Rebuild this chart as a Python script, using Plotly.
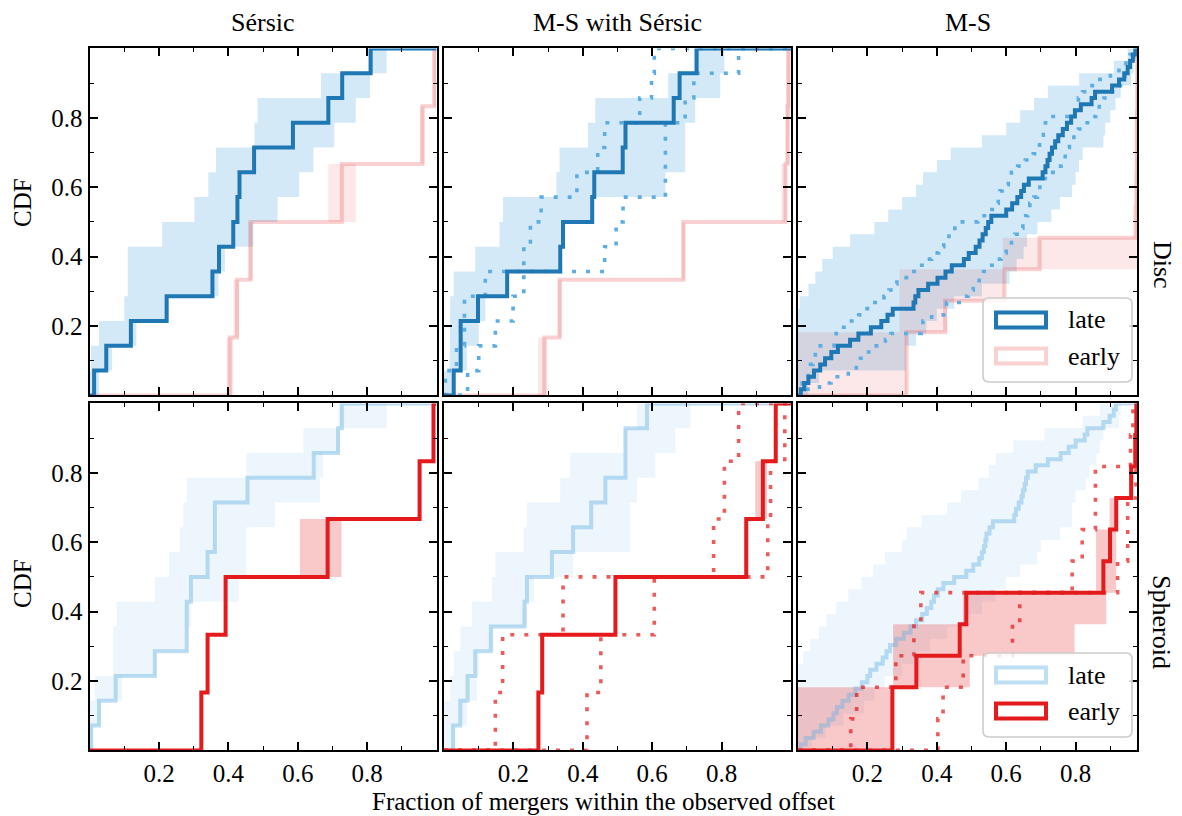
import plotly.graph_objects as go

# ------------------------------------------------------------------ data
col_titles = ["Sérsic", "M-S with Sérsic", "M-S"]
row_titles = ["Disc", "Spheroid"]
tick_vals = [0.2, 0.4, 0.6, 0.8]
tick_text = ["0.2", "0.4", "0.6", "0.8"]
minor_vals = [0.1, 0.3, 0.5, 0.7, 0.9]
col_xmax = [1.0, 1.0, 0.978]

# Panel 1 : Sérsic / Disc
p1_late_x = [0.013, 0.048, 0.119, 0.222, 0.354, 0.373, 0.414, 0.426, 0.432, 0.474, 0.586, 0.688, 0.728, 0.810]
p1_late_lo = [0.000, 0.004, 0.027, 0.100, 0.110, 0.110, 0.209, 0.302, 0.342, 0.364, 0.475, 0.484, 0.667, 0.803]
p1_late_hi = [0.027, 0.065, 0.135, 0.227, 0.371, 0.390, 0.472, 0.542, 0.604, 0.645, 0.705, 0.767, 0.808, 0.856]
p1_early_x = [0.404, 0.425, 0.464, 0.727, 0.959, 0.993]
p1_early_lo = [0.395, 0.414, 0.457, 0.688, 0.952, 0.990]
p1_early_hi = [0.414, 0.430, 0.470, 0.767, 0.966, 1.000]

# Panel 2 : M-S with Sérsic / Disc
p2_late_x = [0.028, 0.048, 0.048, 0.098, 0.182, 0.335, 0.343, 0.427, 0.433, 0.515, 0.523, 0.662, 0.679, 0.728]
p2_late_lo = [0.000, 0.016, 0.016, 0.018, 0.028, 0.090, 0.160, 0.170, 0.324, 0.333, 0.415, 0.436, 0.646, 0.720]
p2_late_hi = [0.033, 0.066, 0.100, 0.119, 0.186, 0.340, 0.345, 0.433, 0.638, 0.695, 0.695, 0.724, 0.796, 0.808]
p2_late_dot_a = [0.004, 0.036, 0.059, 0.059, 0.119, 0.230, 0.249, 0.280, 0.383, 0.443, 0.463, 0.564, 0.598, 0.606]
p2_late_dot_b = [0.068, 0.100, 0.148, 0.199, 0.230, 0.463, 0.496, 0.516, 0.638, 0.638, 0.638, 0.695, 0.720, 0.849]
p2_early_x = [0.289, 0.333, 0.690, 0.984, 0.990, 0.993]
p2_early_lo = [0.271, 0.328, 0.684, 0.972, 0.984, 0.986]
p2_early_hi = [0.297, 0.340, 0.695, 0.988, 0.996, 0.998]

# Panel 3 : M-S / Disc
p3_late_x = [0.008, 0.018, 0.030, 0.046, 0.064, 0.078, 0.096, 0.115, 0.150, 0.174,
             0.210, 0.240, 0.258, 0.273, 0.333, 0.338, 0.347, 0.375, 0.402, 0.425,
             0.443, 0.478, 0.492, 0.512, 0.523, 0.532, 0.541, 0.548, 0.557, 0.600,
             0.617, 0.632, 0.643, 0.651, 0.665, 0.705, 0.713, 0.719, 0.725, 0.732,
             0.741, 0.750, 0.763, 0.775, 0.787, 0.798, 0.815, 0.846, 0.856, 0.905,
             0.925, 0.940, 0.950, 0.957, 0.965, 0.972]
p3_late_dot_a = [0.005, 0.012, 0.022, 0.030, 0.036, 0.043, 0.050, 0.056, 0.104, 0.110,
                 0.125, 0.145, 0.175, 0.192, 0.215, 0.248, 0.262, 0.275, 0.285, 0.327,
                 0.345, 0.370, 0.385, 0.405, 0.420, 0.435, 0.452, 0.465, 0.518, 0.550,
                 0.570, 0.577, 0.582, 0.588, 0.606, 0.615, 0.633, 0.655, 0.678, 0.690,
                 0.696, 0.702, 0.707, 0.713, 0.722, 0.786, 0.800, 0.808, 0.820, 0.835,
                 0.870, 0.900, 0.925, 0.945, 0.957, 0.966]
p3_late_dot_b = [0.028, 0.062, 0.095, 0.145, 0.168, 0.180, 0.192, 0.212, 0.252, 0.268,
                 0.355, 0.360, 0.385, 0.420, 0.428, 0.480, 0.490, 0.505, 0.522, 0.535,
                 0.550, 0.565, 0.585, 0.600, 0.615, 0.625, 0.638, 0.648, 0.656, 0.662,
                 0.668, 0.680, 0.690, 0.697, 0.708, 0.720, 0.742, 0.758, 0.770, 0.776,
                 0.782, 0.795, 0.808, 0.822, 0.842, 0.858, 0.868, 0.882, 0.905, 0.925,
                 0.935, 0.942, 0.946, 0.955, 0.967, 0.975]
p3_late_lo = [0.0, 0.0, 0.0, 0.0, 0.0, 0.0, 0.0, 0.005, 0.03, 0.05, 0.07, 0.10, 0.15, 0.22,
              0.26, 0.30, 0.34, 0.36, 0.40, 0.44, 0.53, 0.60, 0.64, 0.68, 0.72, 0.81, 0.91, 0.95]
p3_late_hi = [0.03, 0.06, 0.31, 0.31, 0.34, 0.37, 0.40, 0.45, 0.53, 0.61, 0.63, 0.65, 0.66, 0.69,
              0.73, 0.755, 0.79, 0.80, 0.81, 0.82, 0.88, 0.885, 0.90, 0.915, 0.93, 0.96, 0.967, 0.975]
p3_early_x = [0.313, 0.313, 0.424, 0.595, 0.696, 0.975, 0.976, 0.977, 0.977, 0.978, 0.978]
p3_early_lo = [0.0, 0.0, 0.293, 0.293, 0.590, 0.965, 0.968, 0.970, 0.970, 0.972, 0.972]
p3_early_hi = [0.313, 0.313, 0.430, 0.595, 0.980, 0.980, 0.980, 0.980, 0.980, 0.980, 0.980]

# Panel 4 : Sérsic / Spheroid
p4_late_x = [0.004, 0.027, 0.075, 0.188, 0.280, 0.280, 0.292, 0.340, 0.361, 0.361, 0.455, 0.646, 0.716, 0.727]
p4_late_lo = [0.000, 0.000, 0.015, 0.068, 0.068, 0.078, 0.188, 0.229, 0.260, 0.270, 0.280, 0.452, 0.616, 0.717]
p4_late_hi = [0.011, 0.033, 0.094, 0.193, 0.284, 0.292, 0.430, 0.452, 0.452, 0.534, 0.664, 0.673, 0.720, 0.856]
p4_early_x = [0.322, 0.340, 0.392, 0.686, 0.951, 0.991]
p4_early_lo = [0.318, 0.336, 0.388, 0.606, 0.947, 0.987]
p4_early_hi = [0.326, 0.344, 0.396, 0.726, 0.955, 0.995]

# Panel 5 : M-S with Sérsic / Spheroid
p5_late_x = [0.026, 0.047, 0.068, 0.090, 0.135, 0.232, 0.239, 0.311, 0.372, 0.424, 0.465, 0.523, 0.523, 0.585]
p5_late_lo = [0.000, 0.000, 0.018, 0.028, 0.047, 0.081, 0.138, 0.148, 0.230, 0.239, 0.335, 0.364, 0.518, 0.556]
p5_late_hi = [0.033, 0.066, 0.095, 0.100, 0.143, 0.239, 0.259, 0.372, 0.535, 0.535, 0.556, 0.609, 0.667, 0.710]
p5_early_x = [0.272, 0.283, 0.494, 0.871, 0.919, 0.956]
p5_early_lo = [0.268, 0.279, 0.490, 0.867, 0.897, 0.952]
p5_early_hi = [0.276, 0.287, 0.498, 0.875, 0.931, 0.960]
p5_early_dot_a = [0.148, 0.169, 0.343, 0.777, 0.808, 0.849]
p5_early_dot_b = [0.412, 0.452, 0.606, 0.933, 0.941, 0.982]

# Panel 6 : M-S / Spheroid
p6_late_x = [0.008, 0.022, 0.045, 0.066, 0.088, 0.102, 0.112, 0.128, 0.146, 0.165,
             0.184, 0.200, 0.208, 0.226, 0.244, 0.255, 0.265, 0.283, 0.305, 0.324,
             0.340, 0.358, 0.371, 0.384, 0.392, 0.403, 0.419, 0.450, 0.485, 0.505,
             0.522, 0.530, 0.536, 0.540, 0.543, 0.552, 0.562, 0.623, 0.628, 0.636,
             0.644, 0.648, 0.653, 0.657, 0.662, 0.685, 0.720, 0.757, 0.780, 0.800,
             0.826, 0.834, 0.880, 0.898, 0.910, 0.916]
p6_late_lo = [0.0, 0.0, 0.0, 0.0, 0.0, 0.0, 0.0, 0.015, 0.035, 0.06, 0.082, 0.11, 0.145, 0.183,
              0.217, 0.25, 0.30, 0.313, 0.356, 0.43, 0.47, 0.52, 0.55, 0.57, 0.62, 0.71, 0.82, 0.87]
p6_late_hi = [0.04, 0.08, 0.13, 0.19, 0.22, 0.25, 0.30, 0.34, 0.38, 0.43, 0.48, 0.53, 0.57, 0.60,
              0.64, 0.69, 0.70, 0.755, 0.79, 0.79, 0.80, 0.83, 0.84, 0.86, 0.87, 0.88, 0.925, 0.93]
p6_early_x = [0.272, 0.272, 0.341, 0.466, 0.485, 0.880, 0.899, 0.917, 0.960, 0.972, 0.975]
p6_early_lo = [0.0, 0.0, 0.274, 0.274, 0.475, 0.859, 0.859, 0.898, 0.955, 0.965, 0.970]
p6_early_hi = [0.270, 0.270, 0.495, 0.797, 0.888, 0.917, 0.917, 0.922, 0.965, 0.978, 0.979]
p6_early_dot_a = [0.152, 0.169, 0.282, 0.334, 0.354, 0.790, 0.819, 0.857, 0.857, 0.958, 0.965]
p6_early_dot_b = [0.403, 0.418, 0.476, 0.618, 0.639, 0.921, 0.950, 0.950, 0.974, 0.977, 0.979]

# ------------------------------------------------------------------ styles
FONT = "Liberation Serif"
FS = 26
W, H = 1182, 816
BLUE = "#1f77b4"
LBLUE = "#5dade2"
RED = "#e41a1c"
row1 = dict(late_band="rgba(93,173,226,0.27)", early_band="rgba(228,26,28,0.10)",
            faded="rgba(228,26,28,0.20)", strong=BLUE, dot=LBLUE)
row2 = dict(late_band="rgba(93,173,226,0.11)", early_band="rgba(228,26,28,0.24)",
            faded="rgba(93,173,226,0.40)", strong=RED, dot="rgba(228,26,28,0.72)")

col_px = [(89.6, 436.6), (444.0, 791.0), (798.0, 1137.4)]
row_px = [(48.4, 395.4), (403.4, 750.4)]


def cdf_xy(r, xmax):
    n = len(r)
    xs = [0.0] + list(r) + [xmax]
    ys = [0.0] + [k / n for k in range(1, n + 1)] + [1.0]
    return xs, ys


def band_xy(lo, hi):
    m = len(lo)
    xs, ys = [], []
    for j in range(m):
        xs += [lo[j], lo[j]]
        ys += [j / m, (j + 1) / m]
    for j in range(m - 1, -1, -1):
        xs += [hi[j], hi[j]]
        ys += [(j + 1) / m, j / m]
    return xs, ys


fig = go.Figure()

panels = [
    dict(row=0, col=0, late=p1_late_x, late_band=(p1_late_lo, p1_late_hi),
         early=p1_early_x, early_band=(p1_early_lo, p1_early_hi), dots=[]),
    dict(row=0, col=1, late=p2_late_x, late_band=(p2_late_lo, p2_late_hi),
         early=p2_early_x, early_band=(p2_early_lo, p2_early_hi), dots=[p2_late_dot_a, p2_late_dot_b]),
    dict(row=0, col=2, late=p3_late_x, late_band=(p3_late_lo, p3_late_hi),
         early=p3_early_x, early_band=(p3_early_lo, p3_early_hi), dots=[p3_late_dot_a, p3_late_dot_b]),
    dict(row=1, col=0, late=p4_late_x, late_band=(p4_late_lo, p4_late_hi),
         early=p4_early_x, early_band=(p4_early_lo, p4_early_hi), dots=[]),
    dict(row=1, col=1, late=p5_late_x, late_band=(p5_late_lo, p5_late_hi),
         early=p5_early_x, early_band=(p5_early_lo, p5_early_hi), dots=[p5_early_dot_a, p5_early_dot_b]),
    dict(row=1, col=2, late=p6_late_x, late_band=(p6_late_lo, p6_late_hi),
         early=p6_early_x, early_band=(p6_early_lo, p6_early_hi), dots=[p6_early_dot_a, p6_early_dot_b]),
]

layout_axes = {}
for i, p in enumerate(panels, start=1):
    r, c = p["row"], p["col"]
    st = row1 if r == 0 else row2
    xmax = col_xmax[c]
    xa = "x" if i == 1 else f"x{i}"
    ya = "y" if i == 1 else f"y{i}"
    common = dict(xaxis=xa, yaxis=ya, showlegend=False, hoverinfo="skip")
    # bands
    bx, by = band_xy(*p["late_band"])
    fig.add_trace(go.Scatter(x=bx, y=by, fill="toself", fillcolor=st["late_band"],
                             mode="lines", line=dict(width=0), **common))
    bx, by = band_xy(*p["early_band"])
    fig.add_trace(go.Scatter(x=bx, y=by, fill="toself", fillcolor=st["early_band"],
                             mode="lines", line=dict(width=0), **common))
    strong = p["late"] if r == 0 else p["early"]
    faded = p["early"] if r == 0 else p["late"]
    fx, fy = cdf_xy(faded, xmax)
    fig.add_trace(go.Scatter(x=fx, y=fy, mode="lines",
                             line=dict(shape="hv", color=st["faded"], width=4), **common))
    for d in p["dots"]:
        dx, dy = cdf_xy(d, xmax)
        fig.add_trace(go.Scatter(x=dx, y=dy, mode="lines",
                                 line=dict(shape="hv", color=st["dot"], width=3.6, dash="4px,10px"),
                                 **common))
    sx, sy = cdf_xy(strong, xmax)
    fig.add_trace(go.Scatter(x=sx, y=sy, mode="lines",
                             line=dict(shape="hv", color=st["strong"], width=4), **common))

    x0, x1 = col_px[c]
    y0, y1 = row_px[r]
    axis_common = dict(
        showline=True, linewidth=2, linecolor="black", mirror="allticks",
        ticks="inside", ticklen=8, tickwidth=1.5, tickcolor="black",
        tickmode="array", tickvals=tick_vals, ticktext=tick_text,
        minor=dict(tickmode="array", tickvals=minor_vals, ticks="inside", ticklen=4,
                   tickwidth=1.2, tickcolor="black"),
        showgrid=False, zeroline=False,
        tickfont=dict(family=FONT, size=25, color="black"),
    )
    layout_axes["xaxis" if i == 1 else f"xaxis{i}"] = dict(
        domain=[x0 / W, x1 / W], range=[0, xmax], anchor=ya,
        showticklabels=(r == 1), **axis_common)
    layout_axes["yaxis" if i == 1 else f"yaxis{i}"] = dict(
        domain=[1 - y1 / H, 1 - y0 / H], range=[0, 1], anchor=xa,
        showticklabels=(c == 0), **axis_common)

fig.update_layout(**layout_axes)

annotations = []
for c, t in enumerate(col_titles):
    annotations.append(dict(text=t, x=(col_px[c][0] + col_px[c][1]) / 2 / W, y=1 - 22 / H,
                            xref="paper", yref="paper", showarrow=False,
                            xanchor="center", yanchor="middle",
                            font=dict(family=FONT, size=FS, color="black")))
for r, (t, yc) in enumerate(zip(row_titles, [265, 622])):
    annotations.append(dict(text=t, x=1162 / W, y=1 - yc / H, xref="paper", yref="paper",
                            showarrow=False, textangle=90, xanchor="center", yanchor="middle",
                            font=dict(family=FONT, size=FS, color="black")))
for yc in [203, 584]:
    annotations.append(dict(text="CDF", x=22 / W, y=1 - yc / H, xref="paper", yref="paper",
                            showarrow=False, textangle=-90, xanchor="center", yanchor="middle",
                            font=dict(family=FONT, size=25, color="black")))
annotations.append(dict(text="Fraction of mergers within the observed offset",
                        x=603 / W, y=1 - 801 / H, xref="paper", yref="paper", showarrow=False,
                        xanchor="center", yanchor="middle",
                        font=dict(family=FONT, size=25, color="black")))

# legends (drawn in pixel layout of the right-hand panels)
shapes = []


def px(x):
    return x / W


def py(y):
    return 1 - y / H


def rounded_box(x0, y0, x1, y1, rad):
    return (f"M {px(x0 + rad)} {py(y0)} L {px(x1 - rad)} {py(y0)} "
            f"Q {px(x1)} {py(y0)} {px(x1)} {py(y0 + rad)} L {px(x1)} {py(y1 - rad)} "
            f"Q {px(x1)} {py(y1)} {px(x1 - rad)} {py(y1)} L {px(x0 + rad)} {py(y1)} "
            f"Q {px(x0)} {py(y1)} {px(x0)} {py(y1 - rad)} L {px(x0)} {py(y0 + rad)} "
            f"Q {px(x0)} {py(y0)} {px(x0 + rad)} {py(y0)} Z")


legend_rows = [
    (0, [("late", BLUE), ("early", row1["faded"])]),
    (355, [("late", row2["faded"]), ("early", RED)]),
]
for off, items in legend_rows:
    shapes.append(dict(type="path", path=rounded_box(983, 298 + off, 1132, 382 + off, 6),
                       xref="paper", yref="paper", fillcolor="rgba(255,255,255,0.85)",
                       line=dict(color="#cccccc", width=1.6), layer="above"))
    for k, (lab, colr) in enumerate(items):
        yc = 320 + off + k * 36
        shapes.append(dict(type="rect", x0=px(996), x1=px(1046), y0=py(yc - 7.5), y1=py(yc + 7.5),
                           xref="paper", yref="paper", fillcolor="white",
                           line=dict(color=colr, width=4), layer="above"))
        annotations.append(dict(text=lab, x=px(1066), y=py(yc), xref="paper", yref="paper",
                                showarrow=False, xanchor="left", yanchor="middle",
                                font=dict(family=FONT, size=FS, color="black")))

fig.update_layout(
    width=W, height=H, margin=dict(l=0, r=0, t=0, b=0),
    paper_bgcolor="white", plot_bgcolor="white",
    annotations=annotations, shapes=shapes, showlegend=False,
)

fig.write_html("out.html")
